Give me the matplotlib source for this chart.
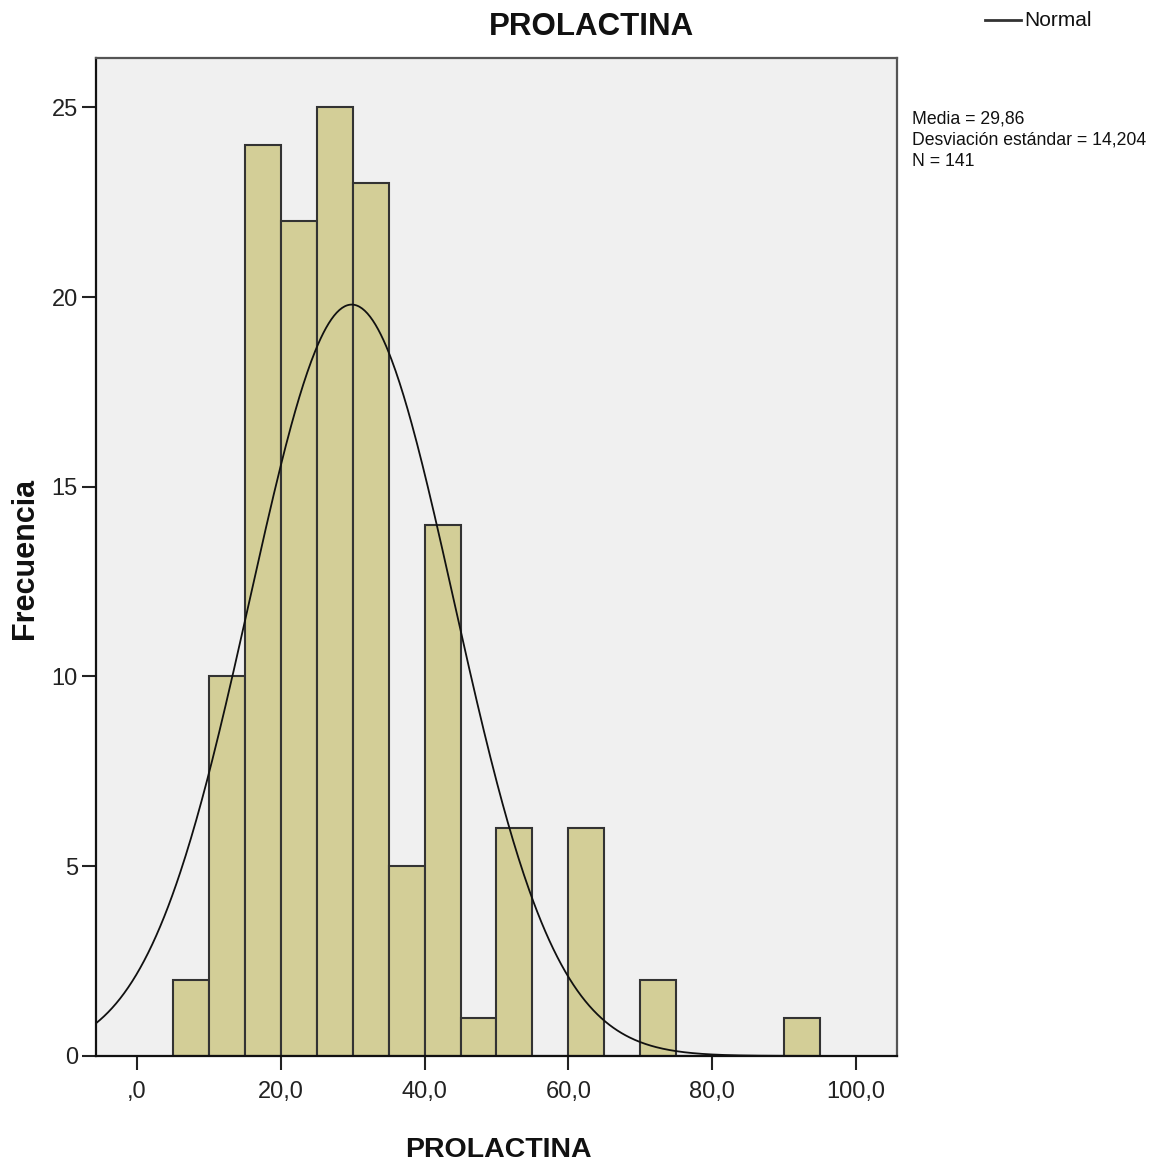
import numpy as np
import matplotlib
matplotlib.use("Agg")
import matplotlib.pyplot as plt
from matplotlib.lines import Line2D

bin_edges = [5, 10, 15, 20, 25, 30, 35, 40, 45, 50, 55, 60, 65, 70, 75, 80, 85, 90, 95]
counts = [2, 10, 24, 22, 25, 23, 5, 14, 1, 6, 0, 6, 0, 2, 0, 0, 0, 1]
mean = 29.86
sd = 14.204
n = 141
xticks = [0, 20, 40, 60, 80, 100]
xticklabels = [",0", "20,0", "40,0", "60,0", "80,0", "100,0"]
yticks = [0, 5, 10, 15, 20, 25]

fam = ['Liberation Sans', 'DejaVu Sans']
plt.rcParams['font.family'] = fam

fig = plt.figure(figsize=(11.74, 11.69), dpi=100)
ax = fig.add_axes([0.0818, 0.0967, 0.764 - 0.0818, 0.9504 - 0.0967])
ax.set_facecolor('#F0F0F0')

lefts = np.array(bin_edges[:-1])
widths = np.diff(bin_edges)
ax.bar(lefts, counts, width=widths, align='edge', color='#D3CE97',
       edgecolor='#333333', linewidth=1.5)

xs = np.linspace(-5.7, 105.7, 600)
binw = 5
ys = n * binw * np.exp(-0.5 * ((xs - mean) / sd) ** 2) / (sd * np.sqrt(2 * np.pi))
ax.plot(xs, ys, color='#111111', linewidth=1.3)

ax.set_xlim(-5.7, 105.7)
ax.set_ylim(0, 26.3)
ax.set_xticks(xticks)
ax.set_xticklabels(xticklabels)
ax.set_yticks(yticks)
ax.tick_params(axis='both', labelsize=17, length=10, width=1.5, color='#222222', labelcolor='#222222')
ax.tick_params(axis='x', pad=8)
ax.tick_params(axis='y', pad=3)
for s in ['left', 'bottom']:
    ax.spines[s].set_color('#111111')
    ax.spines[s].set_linewidth(1.6)
for s in ['top', 'right']:
    ax.spines[s].set_color('#555555')
    ax.spines[s].set_linewidth(1.6)

fig.text(592 / 1174, 1 - 27 / 1169, "PROLACTINA", ha='center', va='center',
         fontsize=22.5, fontweight='bold', color='#111111')
fig.text(498 / 1174, 1 - 1150 / 1169, "PROLACTINA", ha='center', va='center',
         fontsize=20.5, fontweight='bold', color='#111111')
fig.text(25 / 1174, 1 - 558 / 1169, "Frecuencia", ha='center', va='center', rotation=90,
         fontsize=22, fontweight='bold', color='#111111')

fig.add_artist(Line2D([985 / 1174, 1021 / 1174], [1 - 20 / 1169, 1 - 20 / 1169],
                      color='#333333', linewidth=2, transform=fig.transFigure))
fig.text(1024 / 1174, 1 - 21 / 1169, "Normal", ha='left', va='center', fontsize=15, color='#111111')
stats = "Media = 29,86\nDesviación estándar = 14,204\nN = 141"
fig.text(912 / 1174, 1 - 110 / 1169, stats, ha='left', va='top', fontsize=12.7,
         linespacing=1.35, color='#111111')

fig.savefig("out.png", dpi=100, facecolor='white')
